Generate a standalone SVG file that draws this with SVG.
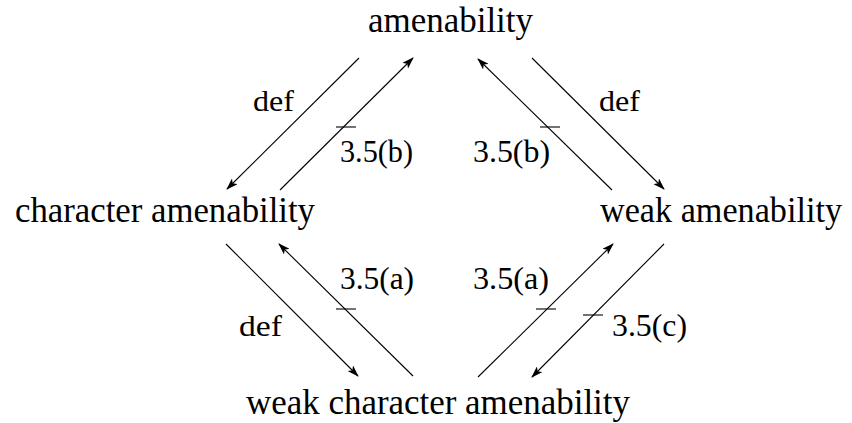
<svg xmlns="http://www.w3.org/2000/svg" width="852" height="423" viewBox="0 0 852 423">
  <style>
    .node { font-family: "Liberation Serif", "Times New Roman", serif; font-size: 35px; fill: #000; }
    .lbl { font-family: "Liberation Serif", "Times New Roman", serif; font-size: 31px; fill: #000; }
    .def { font-family: "Liberation Serif", "Times New Roman", serif; font-size: 29px; fill: #000; }
    .edge { stroke: #000; stroke-width: 1.1; fill: none; marker-end: url(#head); }
    .tick { stroke: #000; stroke-width: 1.1; }
  </style>
  <defs>
    <marker id="head" markerUnits="userSpaceOnUse" viewBox="0 0 12 8" refX="11" refY="4" markerWidth="12" markerHeight="8" orient="auto">
      <path d="M0,0 L12,4 L0,8 L3,4 z" fill="#000"/>
    </marker>
  </defs>

  <rect width="852" height="423" fill="#fff"/>

  <g id="n-amenability">
    <text class="node" x="368" y="32" textLength="165" lengthAdjust="spacingAndGlyphs">amenability</text>
  </g>
  <g id="n-character">
    <text class="node" x="15" y="222" textLength="300" lengthAdjust="spacingAndGlyphs">character amenability</text>
  </g>
  <g id="n-weak">
    <text class="node" x="600" y="222" textLength="242" lengthAdjust="spacingAndGlyphs">weak amenability</text>
  </g>
  <g id="n-weak-character">
    <text class="node" x="246" y="414" textLength="384" lengthAdjust="spacingAndGlyphs">weak character amenability</text>
  </g>

  <g id="connectors">
    <!-- amenability -> character amenability (def) -->
    <line class="edge" x1="359" y1="58" x2="227" y2="189"/>
    <!-- character amenability -> amenability (3.5(b)) -->
    <line class="edge" x1="280" y1="190" x2="413" y2="58"/>
    <line class="tick" x1="336" y1="127" x2="356" y2="127"/>
    <!-- weak amenability -> amenability (3.5(b)) -->
    <line class="edge" x1="612" y1="190" x2="478" y2="59"/>
    <line class="tick" x1="540" y1="127" x2="560" y2="127"/>
    <!-- amenability -> weak amenability (def) -->
    <line class="edge" x1="532" y1="58" x2="664" y2="189"/>
    <!-- character amenability -> weak character amenability (def) -->
    <line class="edge" x1="226" y1="244" x2="358" y2="376"/>
    <!-- weak character amenability -> character amenability (3.5(a)) -->
    <line class="edge" x1="413" y1="376" x2="279" y2="244"/>
    <line class="tick" x1="336" y1="309" x2="356" y2="309"/>
    <!-- weak character amenability -> weak amenability (3.5(a)) -->
    <line class="edge" x1="478" y1="377" x2="613" y2="244"/>
    <line class="tick" x1="536" y1="309" x2="556" y2="309"/>
    <!-- weak amenability -> weak character amenability (3.5(c)) -->
    <line class="edge" x1="664" y1="244" x2="532" y2="377"/>
    <line class="tick" x1="583" y1="315" x2="603" y2="315"/>

    <text class="def" x="253" y="111" textLength="41" lengthAdjust="spacingAndGlyphs">def</text>
    <text class="lbl" x="340" y="162" textLength="73" lengthAdjust="spacingAndGlyphs">3.5(b)</text>
    <text class="lbl" x="473" y="162" textLength="77" lengthAdjust="spacingAndGlyphs">3.5(b)</text>
    <text class="def" x="599" y="111" textLength="41" lengthAdjust="spacingAndGlyphs">def</text>
    <text class="lbl" x="340" y="289" textLength="74" lengthAdjust="spacingAndGlyphs">3.5(a)</text>
    <text class="def" x="239" y="336" textLength="43" lengthAdjust="spacingAndGlyphs">def</text>
    <text class="lbl" x="473" y="289" textLength="76" lengthAdjust="spacingAndGlyphs">3.5(a)</text>
    <text class="lbl" x="612" y="336" textLength="75" lengthAdjust="spacingAndGlyphs">3.5(c)</text>
  </g>
</svg>
